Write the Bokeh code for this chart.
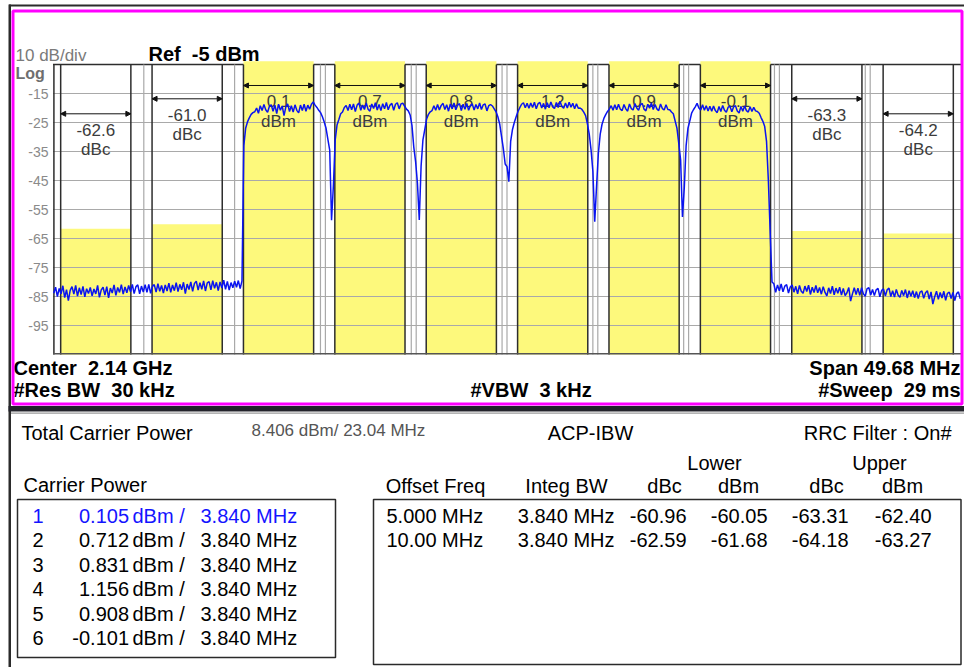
import numpy as np
from bokeh.plotting import figure
from bokeh.models import (Label, BoxAnnotation, Arrow, NormalHead,
                          ColumnDataSource, Range1d)
from bokeh.core.properties import value
from bokeh.embed import file_html
from bokeh.resources import INLINE

# ---------------- data ----------------
center_mhz = 2140.0
span_mhz = 49.68
ref_dbm = -5.0
db_per_div = 10.0
integ_bw_mhz = 3.84

carrier_offsets = [-12.5, -7.5, -2.5, 2.5, 7.5, 12.5]
carrier_dbm = [0.105, 0.712, 0.831, 1.156, 0.908, -0.101]
carrier_dbm_txt = ["0.105", "0.712", "0.831", "1.156", "0.908", "-0.101"]

acp_offset_mhz = [5.0, 10.0]
acp_offset_txt = ["5.000 MHz", "10.00 MHz"]
lower_dbc = [-60.96, -62.59]
lower_dbm = [-60.05, -61.68]
upper_dbc = [-63.31, -64.18]
upper_dbm = [-62.40, -63.27]

total_power_txt = "8.406 dBm/ 23.04 MHz"

y_ticks = [-15, -25, -35, -45, -55, -65, -75, -85, -95]
y_tick_labels = ["-15", "-25", "-35", "-45", "-55", "-65", "-75", "-85", "-95"]

trace_start_offset = -24.8
trace_step = 0.1
trace_dbm = [
    -83.9, -81.8, -85.0, -82.2, -84.1, -81.3, -85.4, -82.6, -86.4, -82.9,
    -81.6, -84.2, -81.2, -84.9, -82.0, -84.3, -81.5, -85.1, -82.3, -84.0,
    -81.9, -84.8, -82.4, -84.1, -81.2, -85.3, -82.7, -81.8, -84.5, -81.6,
    -85.5, -82.1, -83.8, -81.0, -84.6, -81.9, -83.6, -80.9, -84.2, -81.7,
    -83.7, -81.2, -83.4, -80.8, -84.0, -81.6, -81.0, -84.1, -81.4, -83.5,
    -80.9, -83.6, -80.8, -83.9, -81.5, -80.9, -83.5, -80.6, -83.2, -81.2,
    -83.8, -81.0, -83.1, -80.4, -83.6, -81.0, -83.0, -80.2, -83.3, -80.8,
    -82.7, -80.1, -84.0, -80.7, -82.6, -80.0, -83.2, -80.5, -79.7, -82.8,
    -80.2, -82.5, -79.6, -83.1, -80.3, -79.9, -82.7, -79.5, -82.2, -80.1,
    -83.0, -80.0, -82.1, -79.4, -82.5, -79.8, -82.8, -80.2, -82.0, -79.7,
    -81.8, -79.5, -82.3, -79.6, -33.0, -27.0, -24.8, -23.4, -22.2, -21.6,
    -21.3, -20.0, -21.8, -19.2, -20.9, -18.8, -20.6, -21.5, -19.4, -18.9,
    -21.1, -19.0, -21.9, -18.7, -20.8, -19.3, -22.6, -19.6, -18.6, -21.2,
    -19.2, -21.4, -18.9, -20.8, -21.7, -19.0, -20.9, -18.7, -21.1, -19.0,
    -20.4, -18.7, -17.9, -19.0, -19.8, -20.8, -21.6, -23.0, -24.8, -27.0,
    -30.8, -34.5, -58.7, -47.0, -31.0, -25.9, -24.0, -22.0, -21.4, -19.8,
    -19.1, -20.9, -18.7, -20.6, -18.6, -21.2, -19.0, -18.3, -20.8, -19.0,
    -20.5, -18.3, -20.4, -21.1, -18.6, -20.2, -18.2, -20.7, -18.8, -20.9,
    -18.5, -20.3, -18.1, -20.6, -19.0, -18.4, -20.8, -18.7, -18.2, -20.3,
    -18.6, -18.3, -19.4, -20.4, -21.0, -22.4, -26.0, -33.5, -38.5, -46.0,
    -58.6, -40.0, -31.0, -27.5, -23.8, -22.2, -21.3, -20.9, -19.2, -20.8,
    -18.8, -20.7, -19.1, -18.4, -20.5, -18.9, -21.1, -18.6, -20.3, -18.3,
    -20.6, -19.0, -18.5, -20.9, -18.7, -20.4, -18.4, -20.8, -19.1, -18.6,
    -20.7, -18.8, -20.3, -18.3, -20.5, -18.9, -18.6, -21.0, -19.2, -18.8,
    -19.3, -20.3, -21.3, -23.0, -25.5, -29.8, -34.0, -39.3, -40.2, -45.4,
    -31.5, -27.4, -25.0, -23.0, -21.2, -19.9, -18.7, -18.2, -19.9, -18.4,
    -20.1, -18.3, -19.8, -18.0, -20.3, -18.5, -18.1, -20.0, -18.4, -20.4,
    -18.2, -19.9, -17.9, -19.6, -20.2, -18.1, -19.8, -17.7, -19.5, -20.1,
    -18.3, -20.0, -18.0, -19.7, -18.4, -20.3, -18.5, -20.1, -20.0, -20.5,
    -21.4, -22.6, -25.5, -29.0, -34.5, -42.0, -59.2, -47.0, -35.5, -29.0,
    -25.6, -23.6, -22.3, -21.2, -20.4, -19.2, -20.8, -18.9, -20.6, -18.7,
    -20.4, -20.9, -18.8, -20.3, -21.1, -18.6, -20.2, -20.7, -18.5, -20.0,
    -20.8, -18.9, -18.4, -20.4, -21.0, -18.7, -20.1, -18.3, -20.5, -18.8,
    -20.3, -20.9, -18.6, -20.2, -20.7, -18.9, -20.5, -20.6, -21.4, -22.0,
    -24.5, -27.0, -32.3, -38.0, -57.6, -47.5, -33.0, -27.0, -24.5, -21.8,
    -20.6, -19.6, -18.4, -20.0, -20.7, -18.9, -20.8, -19.2, -21.0, -19.4,
    -21.1, -19.3, -20.9, -21.6, -19.5, -21.2, -19.1, -20.8, -21.5, -19.7,
    -19.4, -21.3, -19.6, -19.2, -21.0, -21.7, -19.5, -21.1, -19.3, -20.9,
    -21.4, -19.6, -21.2, -19.8, -21.0, -21.2, -21.8, -23.3, -24.6, -26.4,
    -31.5, -45.0, -63.0, -80.0, -80.6, -83.6, -81.0, -83.0, -80.7, -83.4,
    -81.4, -80.9, -83.8, -81.7, -81.0, -83.5, -81.5, -84.1, -81.2, -83.2,
    -83.9, -81.4, -83.3, -81.1, -84.3, -81.8, -83.6, -81.2, -83.7, -81.9,
    -84.2, -81.6, -83.6, -84.8, -82.0, -84.0, -81.4, -84.4, -82.1, -83.9,
    -81.8, -84.5, -82.2, -84.7, -83.7, -81.9, -86.6, -84.1, -82.0, -84.3,
    -82.1, -84.6, -82.0, -84.1, -84.9, -82.3, -82.0, -84.5, -82.6, -84.7,
    -82.7, -82.2, -85.1, -82.9, -82.4, -84.8, -82.7, -82.1, -85.0, -83.0,
    -85.2, -82.6, -84.6, -85.3, -82.9, -84.7, -82.6, -85.5, -83.0, -84.9,
    -83.0, -85.4, -83.3, -85.7, -83.5, -83.1, -85.6, -83.7, -83.0, -85.9,
    -83.4, -87.6, -85.1, -83.2, -86.0, -83.6, -85.5, -83.2, -86.3, -83.9,
    -83.5, -85.7, -83.6, -86.4, -84.0, -83.4, -85.8,
]

# ---------------- layout / style ----------------
W, H = 964, 667
GX0, GX1 = 52.5, 960.5      # page x of the graticule's left / right edge
GY_REF = 64.0               # page y of the reference level line
PX_PER_DB = 2.9
CLIP_Y = 60.7               # page y where the display clips the channel bars

FONT = "Liberation Sans"
YELLOW = "#fdf97c"
EDGE = "#2d2d2d"
GRID = "#a9a9a9"
TRACE = "#0a14f0"
SP = "\u00a0"               # kept (non-collapsing) space for double spacing

f_lo = center_mhz - span_mhz / 2
f_hi = center_mhz + span_mhz / 2
px_per_mhz = (GX1 - GX0) / span_mhz
x_start = f_lo - GX0 / px_per_mhz
x_end = f_hi + (W - GX1) / px_per_mhz
y_bot = ref_dbm - 10 * db_per_div
y_range_top = ref_dbm + GY_REF / PX_PER_DB
y_range_bot = ref_dbm - (H - GY_REF) / PX_PER_DB
y_clip = ref_dbm + (GY_REF - CLIP_Y) / PX_PER_DB

p = figure(width=W, height=H, x_range=Range1d(x_start, x_end),
           y_range=Range1d(y_range_bot, y_range_top),
           output_backend="svg", toolbar_location=None,
           x_axis_location=None, y_axis_location=None, min_border=0,
           background_fill_color="white", border_fill_color="white")
p.outline_line_color = None
p.grid.visible = False
p.title.visible = False

# channels
adj_offsets = ([carrier_offsets[0] - o for o in acp_offset_mhz] +
               [carrier_offsets[-1] + o for o in acp_offset_mhz])
adj_top = lower_dbm + upper_dbm
adj_dbc = lower_dbc + upper_dbc
ch_center = [center_mhz + o for o in carrier_offsets + adj_offsets]
ch_top = carrier_dbm + adj_top
ch_top_shown = [min(v, y_clip) for v in ch_top]   # display clipping
ch_left = [c - integ_bw_mhz / 2 for c in ch_center]
ch_right = [c + integ_bw_mhz / 2 for c in ch_center]
ch_num = ["%.1f" % v for v in carrier_dbm] + ["%.1f" % v for v in adj_dbc]
ch_unit = ["dBm"] * len(carrier_dbm) + ["dBc"] * len(adj_dbc)
ch_row = [0] * len(carrier_dbm) + [1, 2, 1, 2]   # label height row (style)
row_arrow_db = [-12.24, -16.83, -22.0]
n = len(ch_center)

# reference line (top of graticule) under the bars
p.segment(x0=[f_lo], x1=[f_hi], y0=[ref_dbm], y1=[ref_dbm], line_color=EDGE, line_width=1.5)

p.quad(source=ColumnDataSource(dict(left=ch_left, right=ch_right, top=ch_top_shown,
                                    bottom=[y_bot] * n)),
       left="left", right="right", top="top", bottom="bottom",
       fill_color=YELLOW, line_color=None)

# graticule
div_x = [f_lo + k * span_mhz / 10 for k in range(1, 10)]
p.segment(x0=div_x, x1=div_x, y0=[y_bot] * 9, y1=[ref_dbm] * 9, line_color=GRID, line_width=1.2)
div_x2 = [x - 0.27 for x in div_x[2:]]
p.segment(x0=div_x2, x1=div_x2, y0=[y_bot] * len(div_x2), y1=[ref_dbm] * len(div_x2),
          line_color=GRID, line_width=1.2)
p.segment(x0=[f_lo] * len(y_ticks), x1=[f_hi] * len(y_ticks), y0=y_ticks, y1=y_ticks,
          line_color=GRID, line_width=1.2)

# channel edges
edges = ch_left + ch_right
p.segment(x0=edges, x1=edges, y0=[y_bot] * len(edges), y1=[ref_dbm] * len(edges),
          line_color=EDGE, line_width=1.5)
# frame left / bottom
p.segment(x0=[f_lo + 0.05], x1=[f_lo + 0.05], y0=[y_bot], y1=[ref_dbm], line_color=EDGE, line_width=1.5)
p.segment(x0=[f_lo], x1=[f_hi], y0=[y_bot + 0.3], y1=[y_bot + 0.3], line_color="#555555", line_width=1.5)

# y tick labels (through the y scale)
tick_x = f_lo - 4.5 / px_per_mhz
p.text(x=[tick_x] * len(y_ticks), y=y_ticks, text=y_tick_labels, text_align="right",
       text_baseline="middle", text_font=value(FONT), text_font_size=value("14px"),
       text_color="#8a8a8a")

# integration bandwidth arrows and values
for l, r, row in zip(ch_left, ch_right, ch_row):
    lvl = row_arrow_db[row]
    p.add_layout(Arrow(x_start=l, x_end=r, y_start=lvl, y_end=lvl, line_color="#111111", line_width=1,
                       start=NormalHead(size=5, fill_color="#111111", line_color="#111111"),
                       end=NormalHead(size=5, fill_color="#111111", line_color="#111111")))
lab_src = ColumnDataSource(dict(
    x=ch_center,
    y_num=[row_arrow_db[r] - 5.5 for r in ch_row],
    y_unit=[row_arrow_db[r] - 12.4 for r in ch_row],
    num=ch_num, unit=ch_unit))
for ycol, tcol in (("y_num", "num"), ("y_unit", "unit")):
    p.text(x="x", y=ycol, text=tcol, source=lab_src, text_align="center", text_baseline="middle",
           text_font=value(FONT), text_font_size=value("17px"), text_color="#3c3c3c")

# trace
freq = center_mhz + trace_start_offset + trace_step * np.arange(len(trace_dbm))
p.line(freq, trace_dbm, line_color=TRACE, line_width=1.5)


# ---------------- screen chrome (page pixel positions) ----------------
def lab(text, px, py, size, align="left", bold=False, color="black"):
    p.add_layout(Label(x=px, y=H - py, x_units="screen", y_units="screen", text=text,
                       text_align=align, text_baseline="middle", text_font=FONT,
                       text_font_size="%spx" % size,
                       text_font_style="bold" if bold else "normal", text_color=color))


def box(l, t, r, b, line=None, lw=1.0, fill=None):
    p.add_layout(BoxAnnotation(left=l, right=r, top=H - t, bottom=H - b,
                               left_units="screen", right_units="screen",
                               top_units="screen", bottom_units="screen",
                               fill_color=fill, fill_alpha=1.0 if fill else 0.0,
                               line_color=line, line_alpha=1.0 if line else 0.0,
                               line_width=lw, level="overlay"))


box(8.5, 4, 964, 6, fill="#2b2b2b")
box(8.0, 4, 10.5, 700, fill="#2b2b2b")
box(12.5, 10.5, 961.5, 403.5, line="#ff00ff", lw=3)
box(8.0, 405.5, 964, 411, fill="#23232b")
box(10.5, 412, 964, 413.2, fill="#9a9a9a")
box(17, 499, 335, 657, line="#2a2a2a", lw=1.5)
box(373, 499, 960.5, 664, line="#2a2a2a", lw=1.5)

lab("10 dB/div", 15, 54.5, 17, color="#7a7a7a")
lab("Log", 15, 73, 16, bold=True, color="#6e6e6e")
lab("Ref" + SP + " -5 dBm", 148, 53.5, 20, bold=True)

lab("Center" + SP + " 2.14 GHz", 13, 367.5, 20, bold=True)
lab("#Res BW" + SP + " 30 kHz", 13, 389.5, 20, bold=True)
lab("#VBW" + SP + " 3 kHz", 470, 389.5, 20, bold=True)
lab("Span 49.68 MHz", 960, 367.5, 20, align="right", bold=True)
lab("#Sweep" + SP + " 29 ms", 960, 389.5, 20, align="right", bold=True)

lab("Total Carrier Power", 21, 432.5, 20)
lab(total_power_txt, 251, 429.5, 17, color="#555555")
lab("ACP-IBW", 590, 432.5, 20, align="center")
lab("RRC Filter : On#", 951, 432.5, 20, align="right")
lab("Carrier Power", 23, 484, 20)

row_h = 24.45
for i, v in enumerate(carrier_dbm_txt):
    yy = 515.5 + i * row_h
    col = "#1414ff" if i == 0 else "black"
    lab(str(i + 1), 37.5, yy, 20, align="center", color=col)
    lab(v, 128.5, yy, 20, align="right", color=col)
    lab("dBm /", 132, yy, 20, color=col)
    lab("%.3f MHz" % integ_bw_mhz, 200, yy, 20, color=col)

lab("Lower", 714, 462.5, 20, align="center")
lab("Upper", 879, 462.5, 20, align="center")
for txt, xx in (("Offset Freq", 435), ("Integ BW", 566), ("dBc", 664), ("dBm", 738),
                ("dBc", 826), ("dBm", 902)):
    lab(txt, xx, 485.5, 20, align="center")
for i in range(len(acp_offset_txt)):
    yy = 515.5 + i * row_h
    lab(acp_offset_txt[i], 386, yy, 20)
    lab("%.3f MHz" % integ_bw_mhz, 614, yy, 20, align="right")
    lab("%.2f" % lower_dbc[i], 686, yy, 20, align="right")
    lab("%.2f" % lower_dbm[i], 767, yy, 20, align="right")
    lab("%.2f" % upper_dbc[i], 848, yy, 20, align="right")
    lab("%.2f" % upper_dbm[i], 931, yy, 20, align="right")

open("out.html", "w").write(file_html(p, INLINE))
